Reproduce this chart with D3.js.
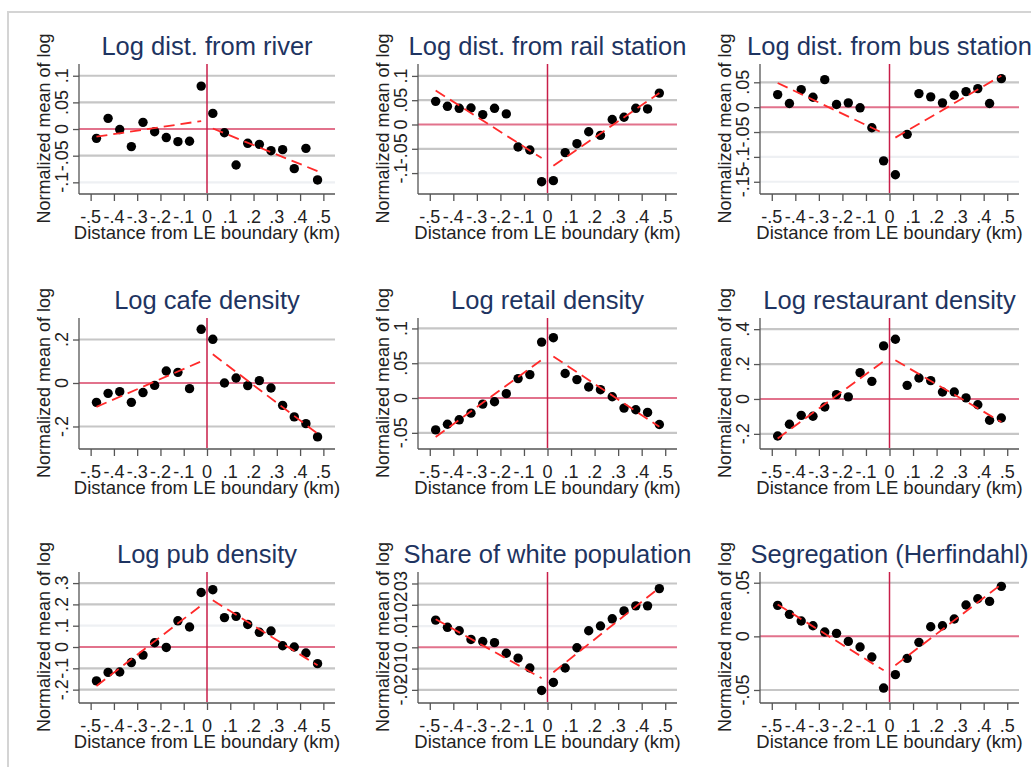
<!DOCTYPE html>
<html>
<head>
<meta charset="utf-8">
<script src="https://cdn.jsdelivr.net/npm/d3@7"></script>
<style>
  body { margin: 0; background: #fff; }
  text { font-family: "Liberation Sans", Arial, sans-serif; }
</style>
</head>
<body>
<div id="chart"></div>
<script>
// bin centres (km from LE boundary)
const binCenters = [-0.475, -0.425, -0.375, -0.325, -0.275, -0.225, -0.175, -0.125, -0.075, -0.025,
                    0.025, 0.075, 0.125, 0.175, 0.225, 0.275, 0.325, 0.375, 0.425, 0.475];
const xTicks = [-0.5, -0.4, -0.3, -0.2, -0.1, 0, 0.1, 0.2, 0.3, 0.4, 0.5];

const titles = ["Log dist. from river", "Log dist. from rail station", "Log dist. from bus station",
                "Log cafe density", "Log retail density", "Log restaurant density",
                "Log pub density", "Share of white population", "Segregation (Herfindahl)"];

// binned means
const riverVals = [-0.0175, 0.020, -0.001, -0.033, 0.0125, -0.005, -0.016, -0.0237, -0.023, 0.0805,
                   0.0293, -0.007, -0.0674, -0.0268, -0.0287, -0.0406, -0.0387, -0.0743, -0.0362, -0.0955];
const railVals = [0.0476, 0.0374, 0.0333, 0.034, 0.0204, 0.0333, 0.0218, -0.0463, -0.0524, -0.1177,
                  -0.1156, -0.0578, -0.0395, -0.015, -0.0224, 0.0102, 0.015, 0.0333, 0.032, 0.0646];
const busVals = [0.0253, 0.0073, 0.0353, 0.020, 0.0553, 0.0053, 0.0087, -0.0013, -0.0413, -0.108,
                 -0.136, -0.0547, 0.0273, 0.0207, 0.0087, 0.024, 0.0313, 0.0373, 0.0073, 0.0573];
const cafeVals = [-0.089, -0.0475, -0.040, -0.089, -0.044, -0.011, 0.055, 0.049, -0.026, 0.247,
                  0.201, 0, 0.023, -0.012, 0.011, -0.023, -0.103, -0.156, -0.187, -0.248];
const retailVals = [-0.0458, -0.0376, -0.0313, -0.0217, -0.0087, -0.0053, 0.0063, 0.0279, 0.0337, 0.0804,
                    0.0867, 0.0352, 0.0265, 0.0159, 0.012, 0.0019, -0.0145, -0.0169, -0.0207, -0.038];
const restaurantVals = [-0.212, -0.145, -0.094, -0.099, -0.046, 0.025, 0.012, 0.151, 0.101, 0.304,
                        0.342, 0.078, 0.120, 0.105, 0.040, 0.040, 0.006, -0.033, -0.122, -0.109];
const pubVals = [-0.159, -0.119, -0.117, -0.073, -0.038, 0.020, -0.002, 0.123, 0.094, 0.256,
                 0.269, 0.138, 0.144, 0.106, 0.069, 0.075, 0.006, 0, -0.028, -0.078];
const whiteVals = [0.0128, 0.0094, 0.0078, 0.0037, 0.0027, 0.0022, -0.0028, -0.0051, -0.0097, -0.0203,
                   -0.0165, -0.0097, -0.0002, 0.0078, 0.0100, 0.0134, 0.0171, 0.0195, 0.0195, 0.0276];
const segVals = [0.0289, 0.0205, 0.0143, 0.0099, 0.004, 0.0028, -0.0047, -0.0099, -0.0193, -0.0482,
                 -0.0357, -0.0205, -0.0056, 0.009, 0.0099, 0.0162, 0.0292, 0.0351, 0.0326, 0.0466];

// linear fit ends: [left side at -.475, -.025], [right side at .025, .475]
const riverFit = [[-0.0144, 0.015], [0.001, -0.079]];
const railFit = [[0.070, -0.069], [-0.085, 0.0646]];
const busFit = [[0.0487, -0.0527], [-0.0613, 0.0633]];
const cafeFit = [[-0.110, 0.0996], [0.132, -0.233]];
const retailFit = [[-0.0559, 0.0549], [0.0597, -0.0414]];
const restaurantFit = [[-0.227, 0.216], [0.2216, -0.132]];
const pubFit = [[-0.183, 0.195], [0.219, -0.086]];
const whiteFit = [[0.0132, -0.0145], [-0.0117, 0.028]];
const segFit = [[0.0298, -0.0317], [-0.027, 0.0485]];

// y axes
const yDomains = [[-0.12, 0.122], [-0.141, 0.1245], [-0.1726, 0.0868],
                  [-0.299, 0.299], [-0.0718, 0.115], [-0.281, 0.464],
                  [-0.258, 0.352], [-0.0257, 0.0354], [-0.0612, 0.06]];
const yTicks = [[-0.1, -0.05, 0, 0.05, 0.1], [-0.1, -0.05, 0, 0.05, 0.1], [-0.15, -0.1, -0.05, 0, 0.05],
                [-0.2, 0, 0.2], [-0.05, 0, 0.05, 0.1], [-0.2, 0, 0.2, 0.4],
                [-0.2, -0.1, 0, 0.1, 0.2, 0.3], [-0.02, -0.01, 0, 0.01, 0.02, 0.03], [-0.05, 0, 0.05]];
const faintGrid = [[-0.1], [-0.1], [-0.15, -0.1], [], [], [], [0.1], [0.01], []];

const seriesVals = [riverVals, railVals, busVals, cafeVals, retailVals, restaurantVals, pubVals, whiteVals, segVals];
const seriesFits = [riverFit, railFit, busFit, cafeFit, retailFit, restaurantFit, pubFit, whiteFit, segFit];

const W = 1031, H = 767;
const colLeft = [79, 418, 760], colRight = [335, 677, 1019];
const rowTop = [64, 318, 572], rowBottom = [193, 448, 702];

const svg = d3.select("#chart").append("svg")
    .attr("width", W).attr("height", H);

svg.append("rect").attr("width", W).attr("height", H).attr("fill", "#fff");

// outer frame
svg.append("path")
    .attr("d", `M8,${H + 2}V12H${W + 2}`)
    .attr("fill", "none").attr("stroke", "#d4d4d4").attr("stroke-width", 2);

const fmt = v => v === 0 ? "0" : String(v).replace("0.", ".");

titles.forEach((title, i) => {
    const c = i % 3, r = Math.floor(i / 3);
    const left = colLeft[c], right = colRight[c], top = rowTop[r], bottom = rowBottom[r];

    const x = d3.scaleLinear().domain([-0.55, 0.55]).range([left, right]);
    const y = d3.scaleLinear().domain(yDomains[i]).range([bottom, top]);
    const g = svg.append("g");

    // gridlines
    g.selectAll(".grid")
        .data(yTicks[i].filter(t => t !== 0))
        .enter().append("line")
        .attr("x1", left).attr("x2", right)
        .attr("y1", d => y(d)).attr("y2", d => y(d))
        .attr("stroke", d => faintGrid[i].includes(d) ? "#eef0f3" : "#c6c6c6")
        .attr("stroke-width", 2.2);

    // reference lines at zero
    g.append("line")
        .attr("x1", left).attr("x2", right)
        .attr("y1", y(0)).attr("y2", y(0))
        .attr("stroke", "#e2728c").attr("stroke-width", 2);
    g.append("line")
        .attr("x1", x(0)).attr("x2", x(0))
        .attr("y1", top).attr("y2", bottom)
        .attr("stroke", "#c81e48").attr("stroke-width", 1.5);

    // axes
    const yAxis = d3.axisLeft(y).tickValues(yTicks[i]).tickSize(6).tickFormat("");
    const ya = g.append("g").attr("transform", `translate(${left},0)`).call(yAxis);
    const xAxis = d3.axisBottom(x).tickValues(xTicks).tickSize(7).tickFormat("");
    const xa = g.append("g").attr("transform", `translate(0,${bottom + 1})`).call(xAxis);
    [ya, xa].forEach(a => {
        a.select(".domain").attr("stroke", "#555").attr("stroke-width", 1.3);
        a.selectAll(".tick line").attr("stroke", "#555").attr("stroke-width", 1.3);
    });
    // x axis line sits at the bottom of the plot
    xa.select(".domain").attr("d", `M${left},0H${right}`);
    ya.select(".domain").attr("d", `M0,${top}V${bottom + 1}`);

    // tick labels
    g.selectAll(".ylab")
        .data(yTicks[i])
        .enter().append("text")
        .attr("transform", d => `translate(${left - 11},${y(d)}) rotate(-90)`)
        .attr("text-anchor", "middle")
        .attr("font-size", 18).attr("fill", "#222")
        .text(fmt);
    g.selectAll(".xlab")
        .data(xTicks)
        .enter().append("text")
        .attr("x", d => x(d)).attr("y", bottom + 30)
        .attr("text-anchor", "middle")
        .attr("font-size", 18).attr("fill", "#222")
        .text(fmt);

    // axis titles
    g.append("text")
        .attr("x", (left + right) / 2).attr("y", bottom + 46)
        .attr("text-anchor", "middle")
        .attr("font-size", 18.5).attr("fill", "#222")
        .text("Distance from LE boundary (km)");
    g.append("text")
        .attr("transform", `translate(${left - 29},${(top + bottom) / 2}) rotate(-90)`)
        .attr("text-anchor", "middle")
        .attr("font-size", 18).attr("fill", "#222")
        .text("Normalized mean of log");

    // title
    g.append("text")
        .attr("x", (left + right) / 2).attr("y", top - 9)
        .attr("text-anchor", "middle")
        .attr("font-size", 25.5).attr("fill", "#1e3461")
        .text(title);

    // points
    g.selectAll(".pt")
        .data(seriesVals[i])
        .enter().append("circle")
        .attr("cx", (d, k) => x(binCenters[k]))
        .attr("cy", d => y(d))
        .attr("r", 4.7)
        .attr("fill", "#000");

    // fitted lines on each side of the boundary
    const fit = seriesFits[i];
    const fitSegs = [
        [[binCenters[0], fit[0][0]], [binCenters[9], fit[0][1]]],
        [[binCenters[10], fit[1][0]], [binCenters[19], fit[1][1]]]
    ];
    g.selectAll(".fit")
        .data(fitSegs)
        .enter().append("path")
        .attr("d", d3.line().x(d => x(d[0])).y(d => y(d[1])))
        .attr("fill", "none")
        .attr("stroke", "#ff2a2a")
        .attr("stroke-width", 1.8)
        .attr("stroke-dasharray", "11,6");
});
</script>
</body>
</html>
